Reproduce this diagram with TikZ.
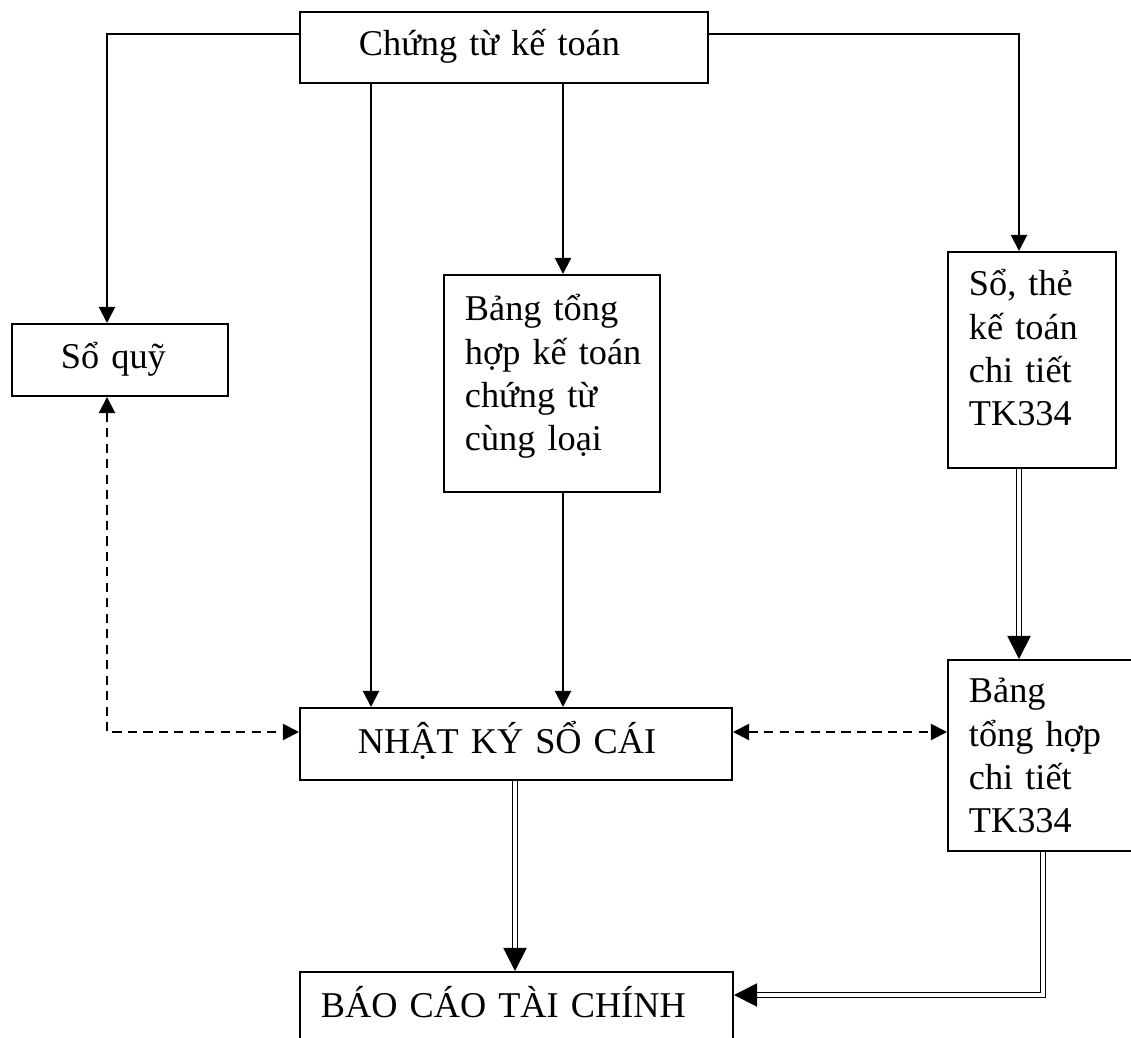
\documentclass[tikz,border=0pt]{standalone}
\usepackage{fontspec}
\setmainfont{Liberation Serif}
\usetikzlibrary{arrows.meta,calc}
\newlength\px
\setlength\px{0.025cm}
\newcommand\fs{\fontsize{25.8pt}{30.59pt}\selectfont}
\begin{document}
\begin{tikzpicture}[x=0.025cm,y=-0.025cm,
  bx/.style={draw,line width=1.4pt,anchor=north west,inner ysep=0pt,align=left,font=\fs},
  arr/.style={line width=1.4pt,-{Triangle[length=11.5pt,width=11.5pt]}},
  dsh/.style={line width=1.4pt,dash pattern=on 6.5pt off 4.5pt,
    {Triangle[length=11.5pt,width=11.5pt]}-{Triangle[length=11.5pt,width=11.5pt]}},
  dbl/.style={double,line width=1.3pt,double distance=2.2pt,-{Triangle[length=16.5pt,width=16.5pt]}}]
\clip (0,0) rectangle (1131,1038);
\fill[white] (0,0) rectangle (1131,1038);
\node[bx,text width=290\px,inner xsep=59\px,text height=44\px,text depth=27\px] (ct) at (299,11) {Chứng từ kế toán};
\node[bx,text width=118\px,inner xsep=49\px,text height=45\px,text depth=27\px] (sq) at (11,323) {Sổ quỹ};
\node[bx,text width=174\px,inner xsep=21\px,text height=46\px,text depth=171\px] (bth) at (443,274)
  {\mbox{Bảng tổng}\\\mbox{hợp kế toán}\\\mbox{chứng từ}\\\mbox{cùng loại}};
\node[bx,text width=126\px,inner xsep=21\px,text height=44\px,text depth=172\px] (st) at (947,251)
  {\mbox{Sổ, thẻ}\\\mbox{kế toán}\\\mbox{chi tiết}\\TK334};
\node[bx,text width=151\px,inner xsep=21\px,text height=43\px,text depth=148\px] (bct) at (947,659)
  {Bảng\\\mbox{tổng hợp}\\\mbox{chi tiết}\\TK334};
\node[bx,text width=316\px,inner xsep=58\px,text height=46\px,text depth=26\px] (nk) at (299,707) {NHẬT KÝ SỔ CÁI};
\node[bx,text width=391\px,inner xsep=21\px,text height=46\px,text depth=33\px] (bc) at (299,971) {BÁO CÁO TÀI CHÍNH};
\coordinate (xa) at (107,0);
\coordinate (xb) at (371,0);
\coordinate (xc) at (563,0);
\coordinate (xd) at (1019,0);
\coordinate (xe) at (515,0);
\coordinate (xf) at (1043,0);
\coordinate (ytop) at (0,34);
\coordinate (ydash) at (0,732);
\coordinate (ybot) at (0,995);
\draw[arr] (ct.west |- ytop) -| (sq.north -| xa);
\draw[arr] (ct.east |- ytop) -| (st.north -| xd);
\draw[arr] (ct.south -| xb) -- (nk.north -| xb);
\draw[arr] (ct.south -| xc) -- (bth.north -| xc);
\draw[arr] (bth.south -| xc) -- (nk.north -| xc);
\draw[dbl] (st.south -| xd) -- (bct.north -| xd);
\draw[dbl] (nk.south -| xe) -- (bc.north -| xe);
\draw[dbl] (bct.south -| xf) |- (bc.east |- ybot);
\draw[dsh] (sq.south -| xa) |- (nk.west |- ydash);
\draw[dsh] (nk.east |- ydash) -- (bct.west |- ydash);
\end{tikzpicture}
\end{document}
